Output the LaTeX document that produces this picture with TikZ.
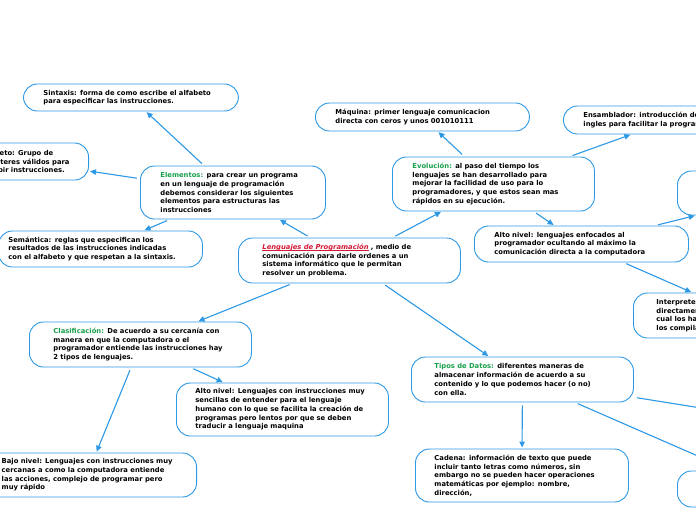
\documentclass[tikz,border=0pt]{standalone}
\usepackage{fontspec}
\setmainfont{DejaVu Sans}
\usetikzlibrary{arrows.meta}
\definecolor{mapblue}{RGB}{45,152,228}
\definecolor{mapgreen}{RGB}{25,160,75}
\definecolor{mapred}{RGB}{215,25,55}
\tikzset{
      topicbox/.style={
        rounded corners=14pt,
        draw=mapblue,
        line width=0.9pt,
        fill=white,
        align=left,
        anchor=west,
        inner xsep=20pt,
        inner ysep=2pt,
        font=\fontsize{6.8}{8.7}\selectfont\bfseries
      },
      linkarrow/.style={
        -{Triangle[length=6pt,width=5.5pt]},
        line width=1.1pt,
        draw=mapblue,
        shorten <=3pt,
        shorten >=1pt
      }
    }
\newcommand{\hl}[1]{\textcolor{mapgreen}{#1}}
\newcommand{\redline}[1]{\setbox0\hbox{#1}\rlap{\rule[-1.3pt]{\wd0}{0.5pt}}\box0}

\begin{document}
\begin{tikzpicture}[x=1pt,y=-1pt]
    \useasboundingbox (0,0) rectangle (696,520);
    \clip (0,0) rectangle (696,520);
    \node[topicbox, text width=174pt, minimum height=45pt, inner xsep=24pt] (lenguajes) at (238,260.5) {\textcolor{mapred}{\redline{\itshape Lenguajes de Programación}} , medio de\\comunicación para darle ordenes a un\\sistema informático que le permitan\\resolver un problema.};
    \node[topicbox, text width=145pt, minimum height=53pt] (elementos) at (140,192.5) {\hl{Elementos:} para crear un programa\\en un lenguaje de programación\\debemos considerar los siguientes\\elementos para estructuras las\\instrucciones};
    \node[topicbox, text width=175pt, minimum height=27pt] (sintaxis) at (23,97.5) {Sintaxis: forma de como escribe el alfabeto\\para especificar las instrucciones.};
    \node[topicbox, anchor=east, inner xsep=19pt, minimum height=37pt] (alfabeto) at (89,161.5) {Alfabeto: Grupo de\\caracteres válidos para\\escribir instrucciones.};
    \node[topicbox, text width=184pt, minimum height=36pt, inner xsep=10pt] (semantica) at (-2,249) {Semántica: reglas que especifican los\\resultados de las instrucciones indicadas\\con el alfabeto y que respetan a la sintaxis.};
    \node[topicbox, text width=162pt, minimum height=54pt, inner xsep=20pt] (evolucion) at (392,184) {\hl{Evolución:} al paso del tiempo los\\lenguajes se han desarrollado para\\mejorar la facilidad de uso para lo\\programadores, y que estos sean mas\\rápidos en su ejecución.};
    \node[topicbox, text width=174pt, minimum height=28pt] (maquina) at (315,117) {Máquina: primer lenguaje comunicacion\\directa con ceros y unos 001010111};
    \node[topicbox, text width=176pt, minimum height=28pt] (ensamblador) at (563,120) {Ensamblador: introducción de palabras en\\ingles para facilitar la programación};
    \node[topicbox, text width=174pt, minimum height=36pt] (altoexp) at (474,244) {Alto nivel: lenguajes enfocados al\\programador ocultando al máximo la\\comunicación directa a la computadora};
    \node[topicbox, minimum width=216pt, minimum height=44pt] (nivelextra) at (677,193) {};
    \node[topicbox, text width=176pt, minimum height=45pt, inner xsep=23pt] (interpretes) at (633,315.5) {Interpretes: traducen el código\\directamente a lenguaje máquina, por lo\\cual los hace más lentos que\\los compiladores};
    \node[topicbox, text width=174pt, minimum height=45pt, inner xsep=24pt] (clasificacion) at (29,344.5) {\hl{Clasificación:} De acuerdo a su cercanía con\\manera en que la computadora o el\\programador entiende las instrucciones hay\\2 tipos de lenguajes.};
    \node[topicbox, text width=174pt, minimum height=53pt, inner xsep=19pt] (altonivel) at (176,409.5) {Alto nivel: Lenguajes con instrucciones muy\\sencillas de entender para el lenguaje\\humano con lo que se facilita la creación de\\programas pero lentos por que se deben\\traducir a lenguaje maquina};
    \node[topicbox, anchor=east, inner xsep=24pt, minimum height=44pt] (bajonivel) at (197,475) {Bajo nivel: Lenguajes con instrucciones muy\\cercanas a como la computadora entiende\\las acciones, complejo de programar pero\\muy rápido};
    \node[topicbox, text width=176pt, minimum height=45pt, inner xsep=23pt] (tipos) at (411,379.5) {\hl{Tipos de Datos:} diferentes maneras de\\almacenar información de acuerdo a su\\contenido y lo que podemos hacer (o no)\\con ella.};
    \node[topicbox, text width=175pt, minimum height=53pt, inner xsep=19pt] (cadena) at (415,475.5) {Cadena: información de texto que puede\\incluir tanto letras como números, sin\\embargo no se pueden hacer operaciones\\matemáticas por ejemplo: nombre,\\dirección,};
    \node[topicbox, minimum width=192pt, minimum height=36pt] (datoabajo) at (677,489) {};
    \coordinate (datoextra) at (820,427);
    % conectores
    \draw[linkarrow] (lenguajes) -- (elementos);
    \draw[linkarrow] (lenguajes) -- (evolucion);
    \draw[linkarrow] (lenguajes) -- (clasificacion);
    \draw[linkarrow] (lenguajes) -- (tipos);
    \draw[linkarrow] (elementos) -- (sintaxis);
    \draw[linkarrow] (elementos) -- (alfabeto);
    \draw[linkarrow] (elementos) -- (semantica);
    \draw[linkarrow] (evolucion) -- (maquina);
    \draw[linkarrow] (evolucion) -- (ensamblador);
    \draw[linkarrow] (evolucion) -- (altoexp);
    \draw[linkarrow] (altoexp) -- (nivelextra);
    \draw[linkarrow] (altoexp) -- (interpretes);
    \draw[linkarrow] (clasificacion) -- (altonivel);
    \draw[linkarrow] (clasificacion) -- (bajonivel);
    \draw[linkarrow] (tipos) -- (cadena);
    \draw[linkarrow] (tipos) -- (datoextra);
    \draw[linkarrow] (tipos) -- (datoabajo);
\end{tikzpicture}
\end{document}
